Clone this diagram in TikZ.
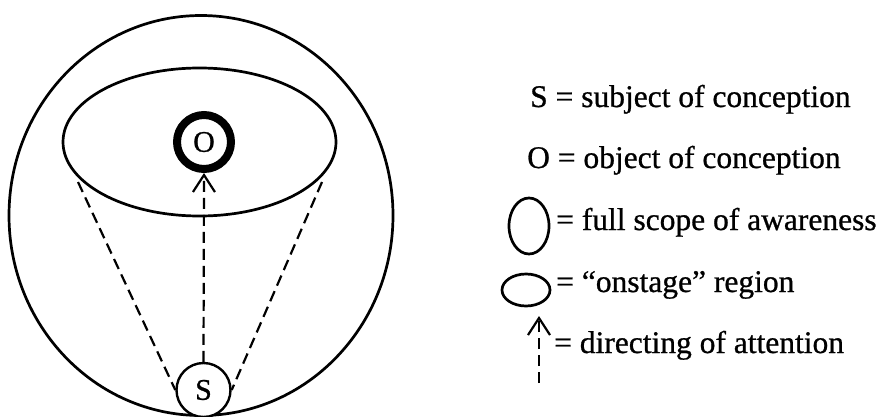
\documentclass[tikz,border=0pt]{standalone}
\usepackage{fontspec}
\setmainfont{Liberation Serif}[RawFeature={embolden=0.8}]
\usetikzlibrary{arrows.meta}
\begin{document}
\begin{tikzpicture}[x=1pt,y=-1pt,
  thinline/.style={line width=2.7pt},
  dashline/.style={line width=2.2pt, dash pattern=on 11pt off 6pt},
  attn/.style={dashline, -{Straight Barb[length=17pt,width=22pt,line width=2.2pt]}},
  lbl/.style={anchor=base west, inner sep=0pt, font=\fontsize{31.5}{37}\selectfont},
  letter/.style={font=\fontsize{30}{36}\selectfont}]
\useasboundingbox (0,0) rectangle (885,417);
% outer circle: full scope of awareness
\draw[thinline] (201,215.5) ellipse [x radius=192, y radius=200];
% onstage region
\draw[thinline] (199.5,142) ellipse [x radius=136.5, y radius=74];
% object and subject
\node[circle, draw, line width=8pt, minimum size=54pt, inner sep=0pt, letter] (O) at (204,142) {O};
\node[circle, draw, fill=white, line width=2.4pt, minimum size=54pt, inner sep=0pt, letter] (S) at (203.5,390) {S};
% cone lines
\coordinate (cl) at (78,182);
\coordinate (cr) at (322,182);
\draw[dashline] (cl) -- (S.west);
\draw[dashline] (cr) -- (S.east);
% directing of attention
\draw[attn] (S.north) -- (O.south);
% legend
\node[lbl] (l1) at (530,107) {S = subject of conception};
\node[lbl] (l2) at (527,168) {O = object of conception};
\draw[thinline] (529,226) ellipse [x radius=20, y radius=28];
\node[lbl] (l3) at (556,230) {= full scope of awareness};
\draw[thinline] (526,290) ellipse [x radius=24, y radius=16];
\node[lbl] (l4) at (556,292) {= “onstage” region};
\coordinate (ab) at (539,383);
\coordinate (at) at (539,316);
\draw[attn] (ab) -- (at);
\node[lbl] (l5) at (554,353) {= directing of attention};
\end{tikzpicture}
\end{document}
